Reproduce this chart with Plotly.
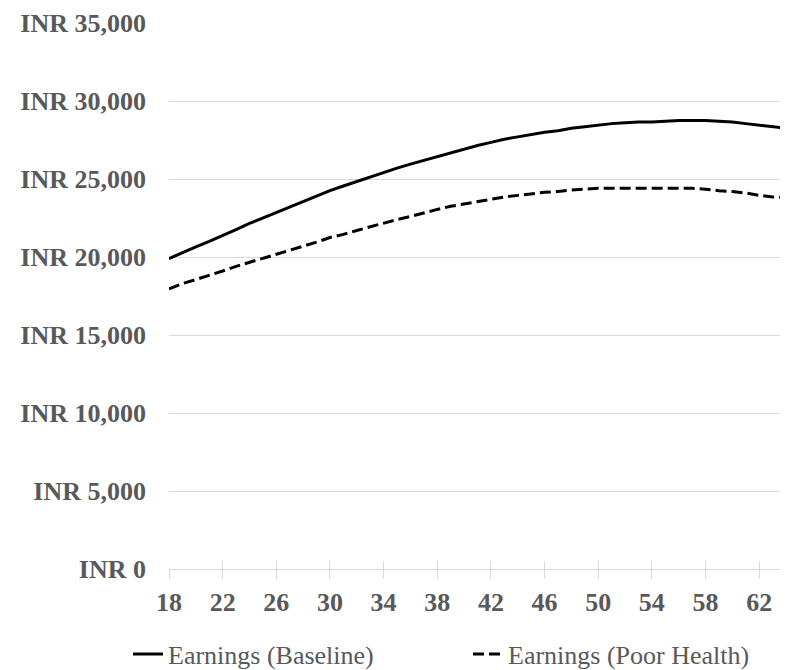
import plotly.graph_objects as go

ages = list(range(18, 65))
baseline = [19900, 20300, 20650, 21000, 21350, 21750, 22150, 22500, 22900, 23250,
            23600, 23900, 24250, 24550, 24850, 25100, 25400, 25700, 25950, 26200,
            26450, 26700, 26950, 27150, 27350, 27550, 27700, 27850, 28000, 28100,
            28250, 28350, 28450, 28550, 28600, 28650, 28650, 28700, 28750, 28750,
            28750, 28700, 28650, 28550, 28450, 28350, 28250]
poor_health = [17950, 18300, 18550, 18800, 19100, 19400, 19650, 19900, 20150, 20450,
               20700, 20950, 21250, 21450, 21700, 21950, 22150, 22400, 22600, 22850,
               23050, 23250, 23400, 23550, 23700, 23850, 23950, 24050, 24150, 24200,
               24300, 24350, 24400, 24400, 24400, 24400, 24400, 24400, 24400, 24400,
               24350, 24250, 24200, 24100, 23950, 23850, 23800]
x_ticks = list(range(18, 63, 4))
y_ticks = list(range(0, 35001, 5000))
y_labels = ["INR {:,}".format(v) for v in y_ticks]

FONT = "Liberation Serif"
GRAY = "#595959"
GRID = "#d9d9d9"

# page body has an 8px margin; figure is sized to fit inside the 788x670 window
W, H = 780, 662

fig = go.Figure()
fig.add_trace(go.Scatter(x=ages, y=baseline, mode="lines", name="Earnings (Baseline)",
                         line=dict(color="black", width=3), legend="legend"))
fig.add_trace(go.Scatter(x=ages, y=poor_health, mode="lines", name="Earnings (Poor Health)",
                         line=dict(color="black", width=3, dash="11px,5px"), legend="legend2"))
# invisible trace to drive inside tick marks on overlay axis
fig.add_trace(go.Scatter(x=[ages[0]], y=[baseline[0]], xaxis="x2", mode="lines",
                         showlegend=False, hoverinfo="skip", line=dict(width=0)))

xr = [18, 64.0]
leg_common = dict(orientation="h", xref="container", yref="container",
                  xanchor="left", yanchor="middle", y=1 - 646 / H,
                  font=dict(family=FONT, size=26, color=GRAY),
                  bgcolor="rgba(0,0,0,0)", borderwidth=0)
fig.update_layout(
    width=W, height=H,
    margin=dict(l=161, r=2, t=15, b=101),
    paper_bgcolor="white", plot_bgcolor="white",
    font=dict(family=FONT, color=GRAY, size=26),
    xaxis=dict(range=xr, tickmode="array", tickvals=x_ticks, ticks="outside",
               ticklen=9, tickcolor=GRID, tickwidth=1, showline=True, linecolor=GRID,
               linewidth=1, showgrid=False, zeroline=False, automargin=False,
               ticklabelstandoff=1,
               tickfont=dict(family=FONT, size=26, color=GRAY, weight="bold")),
    xaxis2=dict(range=xr, overlaying="x", tickmode="array", tickvals=x_ticks,
                ticks="inside", ticklen=8, tickcolor=GRID, showticklabels=False,
                showgrid=False, zeroline=False, showline=False, automargin=False),
    yaxis=dict(range=[0, 35000], tickmode="array", tickvals=y_ticks, ticktext=y_labels,
               showgrid=True, gridcolor=GRID, gridwidth=1, zeroline=False, ticks="",
               ticklabelstandoff=22, automargin=False,
               tickfont=dict(family=FONT, size=26, color=GRAY, weight="bold")),
    legend=dict(x=120 / W, **leg_common),
    legend2=dict(x=460 / W, **leg_common),
    showlegend=True,
)

fig.write_html("out.html")
